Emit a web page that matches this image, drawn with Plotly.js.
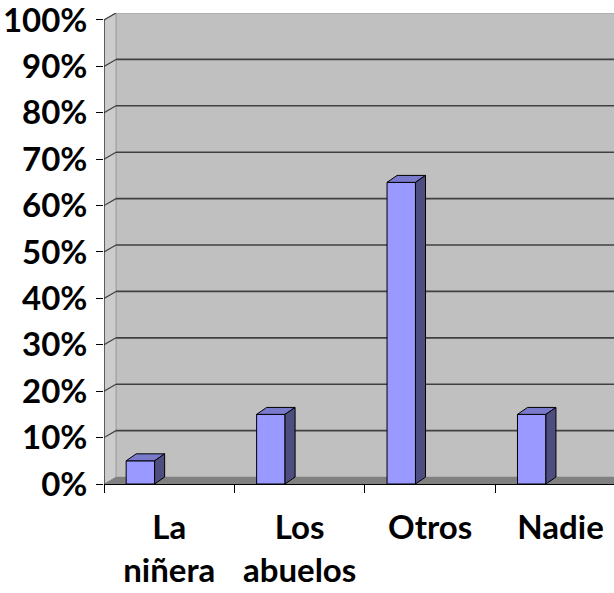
<!DOCTYPE html>
<html><head><meta charset="utf-8">
<script src="https://cdn.plot.ly/plotly-3.0.1.min.js"></script>
<style>html,body{margin:0;padding:0;background:#fff}</style>
</head><body><div id="chart" style="width:614px;height:593px"></div>
<script>
const categories = ["La niñera", "Los abuelos", "Otros", "Nadie"];
const values = [5, 15, 65, 15];
const yTickVals = [0, 10, 20, 30, 40, 50, 60, 70, 80, 90, 100];
const yTickText = yTickVals.map(v => v + "%");

const X0 = -0.5, X1 = 3.41, YMAX = 101.5;
const wallDx = 0.092, wallDy = 1.5;
const barOff = -0.33, barW = 0.218, dDx = 0.077, dDy = 1.5;

const colFront = "#9999ff", colTop = "#7a7acc", colSide = "#4d4d80";
const xs = categories.map((c, i) => i);

const traces = [];
// front faces
traces.push({
  type: "bar", x: xs, y: values, width: barW, offset: barOff,
  marker: {color: colFront, line: {color: "#000", width: 1}},
  hoverinfo: "skip"
});
// top & side faces
xs.forEach((x, i) => {
  const v = values[i];
  const l = x + barOff, r = l + barW;
  traces.push({
    type: "scatter", mode: "lines", fill: "toself", fillcolor: colTop,
    x: [l, r, r + dDx, l + dDx, l], y: [v, v, v + dDy, v + dDy, v],
    line: {color: "#000", width: 1}, hoverinfo: "skip"
  });
  traces.push({
    type: "scatter", mode: "lines", fill: "toself", fillcolor: colSide,
    x: [r, r + dDx, r + dDx, r, r], y: [0, dDy, v + dDy, v, 0],
    line: {color: "#000", width: 1}, hoverinfo: "skip"
  });
});

const shapes = [];
// back wall
shapes.push({type: "rect", layer: "below", xref: "x", yref: "y",
  x0: X0 + wallDx, x1: X1 + 1, y0: wallDy, y1: 100 + wallDy,
  fillcolor: "#c0c0c0", line: {color: "#a0a0a0", width: 1}});
// side wall
shapes.push({type: "path", layer: "below", xref: "x", yref: "y",
  path: `M${X0},0 L${X0},100 L${X0 + wallDx},${100 + wallDy} L${X0 + wallDx},${wallDy} Z`,
  fillcolor: "#cccccc", line: {color: "#a0a0a0", width: 1}});
// floor
shapes.push({type: "path", layer: "below", xref: "x", yref: "y",
  path: `M${X0},0 L${X1 + 1},0 L${X1 + 1},${wallDy} L${X0 + wallDx},${wallDy} Z`,
  fillcolor: "#808080", line: {width: 0}});
// gridlines + diagonals
yTickVals.forEach(v => {
  if (v > 0 && v < 100) {
    shapes.push({type: "line", layer: "below", xref: "x", yref: "y",
      x0: X0 + wallDx, x1: X1 + 1, y0: v + wallDy, y1: v + wallDy,
      line: {color: "#404040", width: 1.6}});
  }
  if (v > 0) {
    shapes.push({type: "line", layer: "below", xref: "x", yref: "y",
      x0: X0, x1: X0 + wallDx, y0: v, y1: v + wallDy,
      line: {color: "#404040", width: 1.2}});
  }
});
// y axis line (front)
shapes.push({type: "line", layer: "above", xref: "x", yref: "y",
  x0: X0, x1: X0, y0: 0, y1: 100, line: {color: "#222", width: 1.2}});

const xFont = {family: "Lato, 'Open Sans', sans-serif", size: 33, color: "#000", weight: 700};
const yFont = {family: "Lato, 'Open Sans', sans-serif", size: 33, color: "#000", weight: 700};

const layout = {
  width: 614, height: 593,
  margin: {l: 104, r: 0, t: 13, b: 109},
  paper_bgcolor: "#fff", plot_bgcolor: "#fff",
  showlegend: false, hovermode: false,
  xaxis: {
    range: [X0, X1], tickmode: "array", tickvals: xs,
    ticktext: categories.map(c => c.replace(" ", "<br>")),
    ticks: "", showgrid: false, zeroline: false,
    showline: true, linecolor: "#000", linewidth: 1,
    tickfont: xFont, ticklabelstandoff: 14,
    minor: {tick0: -0.5, dtick: 1, ticks: "outside", ticklen: 8, tickcolor: "#000", tickwidth: 1, showgrid: false}
  },
  yaxis: {
    range: [0, YMAX], tickmode: "array", tickvals: yTickVals, ticktext: yTickText,
    ticks: "outside", ticklen: 7, tickcolor: "#000", tickwidth: 1,
    showgrid: false, zeroline: false, showline: false,
    tickfont: yFont, ticklabelstandoff: 2, ticklabeloverflow: "allow"
  },
  shapes: shapes
};

Plotly.newPlot("chart", traces, layout, {staticPlot: true, displayModeBar: false});
</script></body></html>
